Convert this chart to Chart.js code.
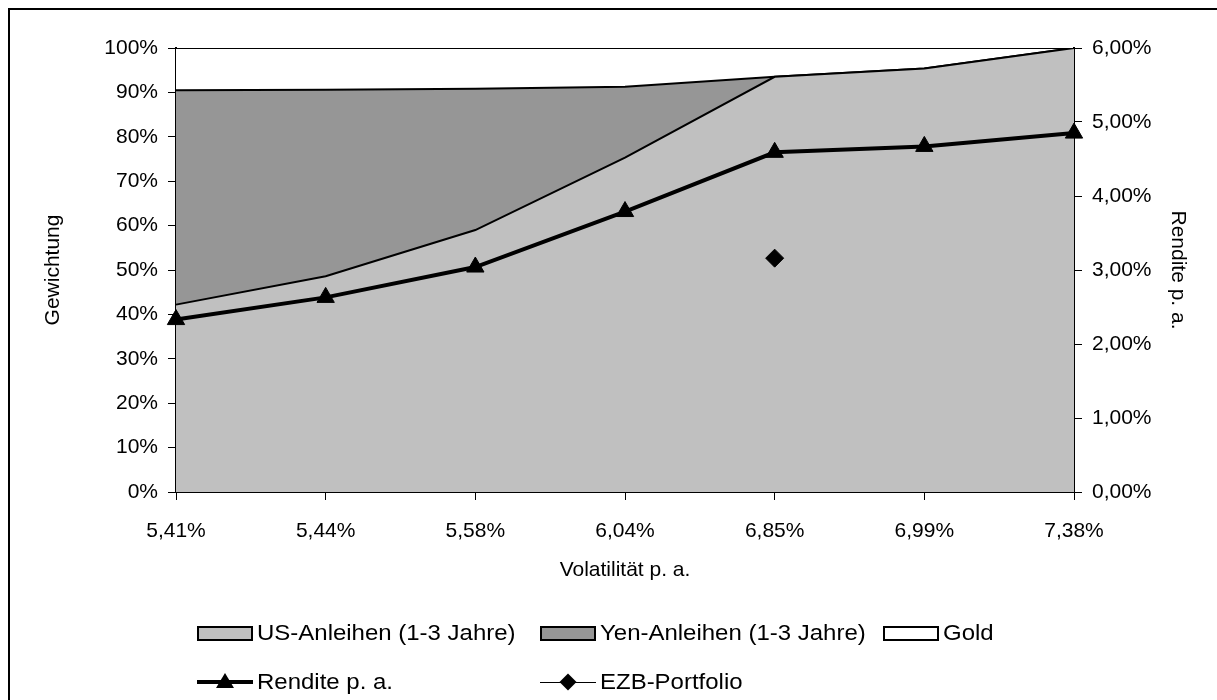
<!DOCTYPE html>
<html>
<head>
<meta charset="utf-8">
<script src="https://cdn.jsdelivr.net/npm/chart.js@4.4.1/dist/chart.umd.min.js"></script>
<style>
  body { margin: 0; background: #fff; font-family: "Liberation Sans", Arial, sans-serif; }
  #wrap { position: relative; width: 1217px; height: 700px; overflow: hidden; }
  #frame { position: absolute; left: 8px; top: 8px; width: 1220px; height: 700px; border-left: 2px solid #000; border-top: 2px solid #000; }
  #chart { position: absolute; left: 0; top: 0; }
  .lg { position: absolute; font-size: 22px; color: #000; white-space: nowrap; line-height: 26px; transform: scaleX(1.09); transform-origin: 0 50%; }
  .box { position: absolute; width: 52px; height: 11px; border: 2px solid #000; }
  .ln { position: absolute; background: #000; }
  .tri { position: absolute; width: 0; height: 0; border-left: 9px solid transparent; border-right: 9px solid transparent; border-bottom: 15px solid #000; }
  .dia { position: absolute; width: 12px; height: 12px; background: #000; transform: rotate(45deg); }
</style>
</head>
<body>
<div id="wrap">
  <div id="frame"></div>
  <canvas id="chart" width="1217" height="700"></canvas>
  <div id="legend"></div>
</div>
<script>
// Volatilität p. a. (Kategorien)
const labels = ['5,41%', '5,44%', '5,58%', '6,04%', '6,85%', '6,99%', '7,38%'];

// Gewichtung in % (gestapelt)
const usAnleihen = [42.2, 48.6, 59.0, 75.3, 93.5, 95.4, 100];
const yenAnleihen = [48.3, 42.0, 31.8, 16.0, 0, 0, 0];
const gold = [9.5, 9.4, 9.2, 8.7, 6.5, 4.6, 0];

// Rendite p. a. in %
const rendite = [2.33, 2.63, 3.04, 3.79, 4.59, 4.67, 4.85];
const ezbPortfolio = [null, null, null, null, 3.16, null, null];

// Achsenbeschriftungen
const leftTicks = ['0%', '10%', '20%', '30%', '40%', '50%', '60%', '70%', '80%', '90%', '100%'];
const rightTicks = ['0,00%', '1,00%', '2,00%', '3,00%', '4,00%', '5,00%', '6,00%'];

const FONT = 'Liberation Sans';
Chart.defaults.font.family = FONT;
Chart.defaults.font.size = 21;
Chart.defaults.color = '#000';

const tickFont = { family: FONT, size: 21 };

new Chart(document.getElementById('chart'), {
    type: 'line',
    data: {
        labels: labels,
        datasets: [
            {
                label: 'US-Anleihen (1-3 Jahre)',
                data: usAnleihen,
                yAxisID: 'y',
                fill: 'origin',
                backgroundColor: '#c0c0c0',
                borderColor: '#000',
                borderWidth: 2,
                pointRadius: 0,
                tension: 0,
                order: 2
            },
            {
                label: 'Yen-Anleihen (1-3 Jahre)',
                data: yenAnleihen,
                yAxisID: 'y',
                fill: '-1',
                backgroundColor: '#969696',
                borderColor: '#000',
                borderWidth: 2,
                pointRadius: 0,
                order: 2
            },
            {
                label: 'Gold',
                data: gold,
                yAxisID: 'y',
                fill: '-1',
                backgroundColor: '#ffffff',
                borderColor: '#000',
                borderWidth: 2,
                pointRadius: 0,
                order: 2
            },
            {
                label: 'Rendite p. a.',
                data: rendite,
                yAxisID: 'y1',
                fill: false,
                borderColor: '#000',
                borderWidth: 4,
                pointStyle: 'triangle',
                pointRadius: 10,
                pointBackgroundColor: '#000',
                pointBorderColor: '#000',
                pointBorderWidth: 1,
                clip: false,
                order: 0
            },
            {
                label: 'EZB-Portfolio',
                data: ezbPortfolio,
                yAxisID: 'y1',
                fill: false,
                showLine: false,
                borderColor: '#000',
                borderWidth: 1,
                pointStyle: 'rectRot',
                pointRadius: 9,
                pointBackgroundColor: '#000',
                pointBorderColor: '#000',
                clip: false,
                order: 0
            }
        ]
    },
    options: {
        responsive: false,
        animation: false,
        events: [],
        layout: { padding: { left: 37, right: 23, top: 48, bottom: 113 } },
        plugins: {
            legend: { display: false },
            tooltip: { enabled: false }
        },
        scales: {
            x: {
                offset: false,
                grid: { drawOnChartArea: false, drawTicks: true, tickLength: 8, tickColor: '#000', tickWidth: 1 },
                border: { color: '#000', width: 2 },
                ticks: { font: tickFont, color: '#000', padding: 19, maxRotation: 0, autoSkip: false },
                title: { display: true, text: 'Volatilität p. a.', font: tickFont, color: '#000', padding: 4 },
                afterFit: (s) => { s.height = 95; }
            },
            y: {
                position: 'left',
                stacked: true,
                min: 0,
                max: 100,
                grid: { drawOnChartArea: false, drawTicks: true, tickLength: 8, tickColor: '#000', tickWidth: 1 },
                border: { color: '#000', width: 2 },
                ticks: {
                    stepSize: 10,
                    font: tickFont,
                    color: '#000',
                    padding: 10,
                    callback: (v, i) => leftTicks[i]
                },
                title: { display: true, text: 'Gewichtung', font: tickFont, color: '#000', padding: 4 },
                afterFit: (s) => { s.width = 139; }
            },
            y1: {
                position: 'right',
                min: 0,
                max: 6,
                grid: { drawOnChartArea: false, drawTicks: true, tickLength: 8, tickColor: '#000', tickWidth: 1 },
                border: { color: '#000', width: 2 },
                ticks: {
                    stepSize: 1,
                    font: tickFont,
                    color: '#000',
                    padding: 10,
                    callback: (v, i) => rightTicks[i]
                },
                title: { display: true, text: 'Rendite p. a.', font: tickFont, color: '#000', padding: 4 },
                afterFit: (s) => { s.width = 120; }
            }
        }
    }
});

// Legende (zweizeilig, Spalten wie im Original)
const legendItems = [
    { type: 'box', color: '#c0c0c0', text: 'US-Anleihen (1-3 Jahre)', x: 197, y: 633 },
    { type: 'box', color: '#969696', text: 'Yen-Anleihen (1-3 Jahre)', x: 540, y: 633 },
    { type: 'box', color: '#ffffff', text: 'Gold', x: 883, y: 633 },
    { type: 'tri', text: 'Rendite p. a.', x: 197, y: 682 },
    { type: 'dia', text: 'EZB-Portfolio', x: 540, y: 682 }
];

const legend = document.getElementById('legend');
legendItems.forEach(item => {
    const sym = document.createElement('div');
    if (item.type === 'box') {
        sym.className = 'box';
        sym.style.left = item.x + 'px';
        sym.style.top = (item.y - 7) + 'px';
        sym.style.background = item.color;
        legend.appendChild(sym);
    } else {
        const line = document.createElement('div');
        line.className = 'ln';
        const thick = item.type === 'tri' ? 4 : 1;
        line.style.left = item.x + 'px';
        line.style.width = '56px';
        line.style.top = (item.y - thick / 2) + 'px';
        line.style.height = thick + 'px';
        legend.appendChild(line);
        if (item.type === 'tri') {
            sym.className = 'tri';
            sym.style.left = (item.x + 19) + 'px';
            sym.style.top = (item.y - 9) + 'px';
        } else {
            sym.className = 'dia';
            sym.style.left = (item.x + 22) + 'px';
            sym.style.top = (item.y - 6) + 'px';
        }
        legend.appendChild(sym);
    }
    const t = document.createElement('div');
    t.className = 'lg';
    t.textContent = item.text;
    t.style.left = (item.x + 60) + 'px';
    t.style.top = (item.y - 13) + 'px';
    legend.appendChild(t);
});
</script>
</body>
</html>
